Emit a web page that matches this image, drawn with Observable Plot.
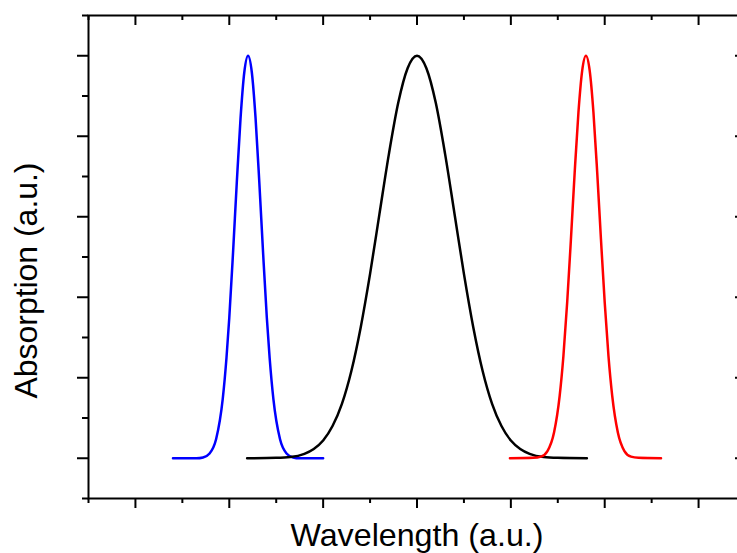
<!DOCTYPE html>
<html>
<head>
<meta charset="utf-8">
<script src="https://cdn.jsdelivr.net/npm/d3@7"></script>
<script src="https://cdn.jsdelivr.net/npm/@observablehq/plot@0.6"></script>
<style>
  html, body { margin: 0; padding: 0; background: white; overflow: hidden; }
</style>
</head>
<body>
<div id="chart"></div>
<script>
// Tick positions (no labels shown in the reference)
const xMajor = [0, 1, 2, 3, 4, 5, 6];
const xMinor = [-0.5, 0.5, 1.5, 2.5, 3.5, 4.5, 5.5, 6.5];
const yMajor = [0, 0.2, 0.4, 0.6, 0.8, 1.0];
const yMinor = [-0.1, 0.1, 0.3, 0.5, 0.7, 0.9, 1.1];

// Blue band
const blueX = [0.40, 0.65, 0.72, 0.79, 0.86, 0.93, 0.97, 1.00, 1.04, 1.08, 1.12, 1.16, 1.20,
               1.24, 1.28, 1.32, 1.36, 1.40, 1.43, 1.47, 1.54, 1.61, 1.68, 1.75, 2.00];
const blueY = [0, 0.000, 0.002, 0.012, 0.048, 0.147, 0.249, 0.349, 0.511, 0.685, 0.845, 0.959, 1.000,
               0.959, 0.845, 0.685, 0.511, 0.349, 0.249, 0.147, 0.048, 0.012, 0.002, 0.000, 0];

// Black band
const blackX = [1.19, 1.50, 1.65, 1.80, 1.90, 2.00, 2.10, 2.20, 2.30, 2.40, 2.50, 2.60, 2.70, 2.80, 2.90, 3.00,
                3.10, 3.20, 3.30, 3.40, 3.50, 3.60, 3.70, 3.80, 3.90, 4.00, 4.10, 4.20, 4.35, 4.50, 4.81];
const blackY = [0, 0.001, 0.003, 0.011, 0.023, 0.044, 0.080, 0.135, 0.216, 0.325, 0.458, 0.607, 0.755, 0.883, 0.969, 1.000,
                0.969, 0.883, 0.755, 0.607, 0.458, 0.325, 0.216, 0.135, 0.080, 0.044, 0.023, 0.011, 0.003, 0.001, 0];

// Red band
const redX = [3.99, 4.24, 4.32, 4.39, 4.46, 4.52, 4.56, 4.60, 4.64, 4.68, 4.72, 4.76, 4.80,
              4.84, 4.88, 4.92, 4.96, 5.00, 5.04, 5.08, 5.14, 5.21, 5.28, 5.36, 5.60];
const redY = [0, 0.001, 0.004, 0.018, 0.064, 0.155, 0.254, 0.387, 0.544, 0.710, 0.859, 0.963, 1.000,
              0.963, 0.859, 0.710, 0.544, 0.387, 0.254, 0.155, 0.064, 0.018, 0.004, 0.001, 0];

const xLabel = "Wavelength (a.u.)";
const yLabel = "Absorption (a.u.)";

const toRows = (xs, ys) => xs.map((x, i) => ({x, y: ys[i]}));
const blue = toRows(blueX, blueY);
const black = toRows(blackX, blackY);
const red = toRows(redX, redY);

const W = 737, H = 553, mL = 88, mR = -8, mT = 15, mB = 55;
const plotW = W - mL - mR, plotH = H - mT - mB;
const blank = () => "";

const chart = Plot.plot({
  width: W, height: H,
  marginLeft: mL, marginRight: mR, marginTop: mT, marginBottom: mB,
  style: {fontFamily: "'Liberation Sans', Arial, sans-serif", background: "white", color: "black"},
  x: {domain: [-0.5, 6.5]},
  y: {domain: [-0.1, 1.1]},
  marks: [
    // outward ticks bottom / left
    Plot.axisX({ticks: xMajor, tickSize: 10, tickFormat: blank, strokeWidth: 2, label: null}),
    Plot.axisX({ticks: xMinor, tickSize: 5, tickFormat: blank, strokeWidth: 2, label: null}),
    Plot.axisY({ticks: yMajor, tickSize: 11, tickFormat: blank, strokeWidth: 2, label: null}),
    Plot.axisY({ticks: yMinor, tickSize: 6, tickFormat: blank, strokeWidth: 2, label: null}),
    // inward ticks top / right
    Plot.ruleX(xMajor, {x: d => d, insetBottom: plotH - 10, strokeWidth: 2}),
    Plot.ruleX(xMinor, {x: d => d, insetBottom: plotH - 5, strokeWidth: 2}),
    Plot.ruleY(yMajor, {y: d => d, insetLeft: plotW - 10, strokeWidth: 2}),
    Plot.ruleY(yMinor, {y: d => d, insetLeft: plotW - 5, strokeWidth: 2}),
    Plot.frame({stroke: "black", strokeWidth: 2}),
    Plot.line(blue, {x: "x", y: "y", stroke: "#0000ff", strokeWidth: 2.5, curve: "monotone-x"}),
    Plot.line(black, {x: "x", y: "y", stroke: "#000000", strokeWidth: 2.5, curve: "monotone-x"}),
    Plot.line(red, {x: "x", y: "y", stroke: "#ff0000", strokeWidth: 2.5, curve: "monotone-x"}),
    Plot.text([xLabel], {text: d => d, frameAnchor: "bottom", textAnchor: "middle", lineAnchor: "bottom", dy: 47.5, fontSize: 32, fill: "black"}),
    Plot.text([yLabel], {text: d => d, frameAnchor: "left", textAnchor: "middle", rotate: -90, lineAnchor: "bottom", dx: -52, dy: 23.5, fontSize: 32, fill: "black"})
  ]
});

chart.querySelectorAll("text").forEach(t => {
  const s = t.textContent;
  if (s === xLabel) { t.setAttribute("textLength", 253); t.setAttribute("lengthAdjust", "spacingAndGlyphs"); }
  if (s === yLabel) { t.setAttribute("textLength", 236); t.setAttribute("lengthAdjust", "spacingAndGlyphs"); }
});

document.getElementById("chart").appendChild(chart);
</script>
</body>
</html>
